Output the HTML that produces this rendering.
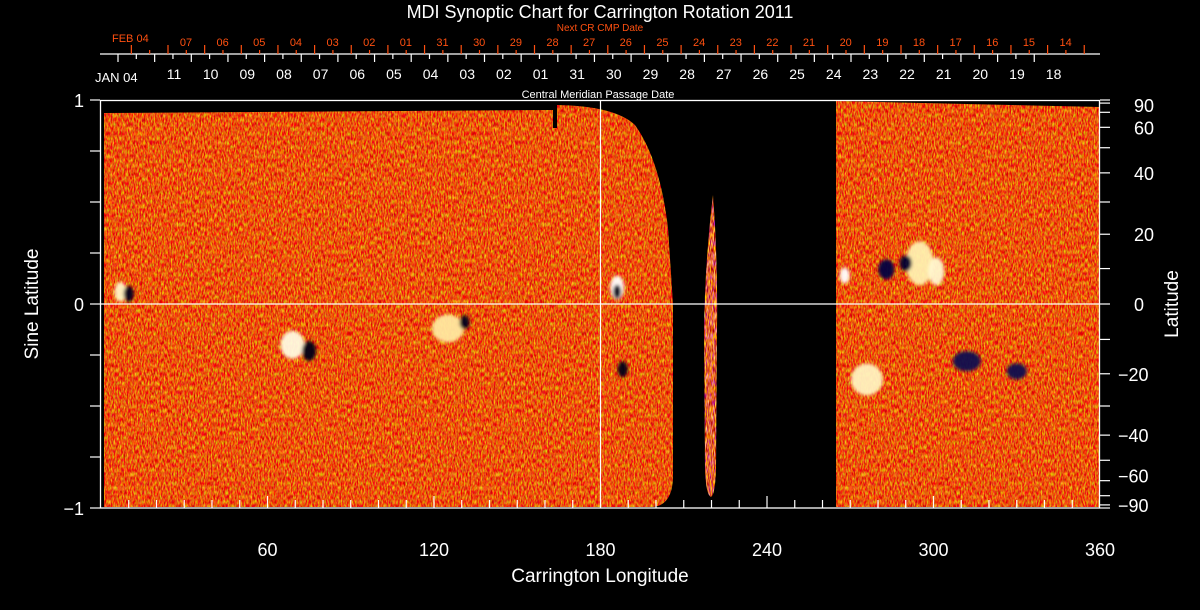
<!DOCTYPE html>
<html><head><meta charset="utf-8"><style>
html,body{margin:0;padding:0;background:#000;}
svg{display:block;}
text{font-family:"Liberation Sans","DejaVu Sans",sans-serif;}
</style></head>
<body>
<svg id="c" width="1200" height="610" viewBox="0 0 1200 610" xmlns="http://www.w3.org/2000/svg">
<defs>
<filter id="tex" x="0" y="0" width="100%" height="100%" color-interpolation-filters="sRGB">
<feTurbulence type="fractalNoise" baseFrequency="0.7 0.22" numOctaves="2" seed="4" result="n"/>
<feColorMatrix in="n" type="matrix" values="0.4 0 0 0 0.72  0 1.5 0 0 -0.42  0 0 0.3 0 -0.1  0 0 0 0 1"/>
</filter>
<filter id="tex2" x="0" y="0" width="100%" height="100%" color-interpolation-filters="sRGB">
<feTurbulence type="fractalNoise" baseFrequency="0.9 0.15" numOctaves="2" seed="9" result="n"/>
<feColorMatrix in="n" type="matrix" values="0.9 0 0 0 0.45  1.8 0 0 0 -0.5  0 0 1.8 0 -0.7  0 0 0 0 1"/>
</filter>
<filter id="blur"><feGaussianBlur stdDeviation="1.5"/></filter>
<clipPath id="clipL"><path d="M104,113 L553,110 L553,128 L557,128 L557,105 Q615,106 635,125 Q660,160 668,228 L673,304 L673,478 Q672,505 653,507 L104,507 Z"/></clipPath>
<clipPath id="clipS"><path d="M713,195 Q718,260 717,330 L716,470 Q715,495 711,497 Q706,495 705,470 L704,330 Q705,260 713,195 Z"/></clipPath>
<clipPath id="clipR"><path d="M836,101 L1100,107 L1100,507 L836,507 Z"/></clipPath>
</defs>
<g id="data">
<rect x="100" y="100" width="1000" height="408" fill="#e8561a" filter="url(#tex)" clip-path="url(#clipL)"/>
<rect x="100" y="100" width="1000" height="408" fill="#e8561a" filter="url(#tex)" clip-path="url(#clipR)"/>
<rect x="690" y="190" width="40" height="320" filter="url(#tex2)" clip-path="url(#clipS)"/>
<g id="spots" filter="url(#blur)"></g>
</g>
<g id="axes"></g>
</svg>
<script>
const NS='http://www.w3.org/2000/svg';
const axes=document.getElementById('axes');
const spotsG=document.getElementById('spots');
const lonTicks=[60,120,180,240,300,360];
const sineTicks=[1,0,-1];
const sineLabels=['1','0','\u22121'];
const latTicks=[90,60,40,20,0,-20,-40,-60,-90];
const latLabels=['90','60','40','20','0','\u221220','\u221240','\u221260','\u221290'];
const cmpDays=['11','10','09','08','07','06','05','04','03','02','01','31','30','29','28','27','26','25','24','23','22','21','20','19','18'];
const nextDays=['07','06','05','04','03','02','01','31','30','29','28','27','26','25','24','23','22','21','20','19','18','17','16','15','14'];
// spots: lon, sine latitude, rx, ry, colour
const spotLon=[7,10,69,75,125,131,186,186,188,295,301,276,283,290,268,312,330];
const spotLat=[0.06,0.05,-0.2,-0.23,-0.12,-0.09,0.08,0.06,-0.32,0.2,0.16,-0.37,0.17,0.2,0.14,-0.28,-0.33];
const spotRx=[6,5,12,7,16,5,7,4,5,14,8,16,8,6,5,14,10];
const spotRy=[10,8,14,10,14,7,12,7,8,22,14,16,10,8,8,10,8];
const spotCol=['#fff5c8','#000020','#fffae0','#000018','#ffe8a0','#00001c','#ffffff','#000018','#000018','#fff0b0','#fff8d0','#fff2c0','#000040','#000030','#ffffff','#101050','#101050'];
const X=l=>101+l*2.775, Y=s=>304-s*204;
function el(t,a,p){const e=document.createElementNS(NS,t);for(const k in a)e.setAttribute(k,a[k]);(p||axes).appendChild(e);return e;}
function txt(s,x,y,size,fill,anchor,name,rot){const e=el('text',{x:x,y:y,'font-size':size,fill:fill,'text-anchor':anchor||'middle'});if(rot)e.setAttribute('transform',rot);e.textContent=s;


return e;}
spotLon.forEach((l,i)=>{const e=el('ellipse',{cx:X(l),cy:Y(spotLat[i]),rx:spotRx[i],ry:spotRy[i],fill:spotCol[i],opacity:0.95},spotsG);

});
const f=el('rect',{x:100.5,y:100.5,width:999,height:407.5,fill:'none',stroke:'#fff','stroke-width':1.3});


const h=el('line',{x1:100,x2:1100,y1:Y(0),y2:Y(0),stroke:'#fff','stroke-width':1.2});


const v=el('line',{x1:X(180),x2:X(180),y1:100,y2:508,stroke:'#fff','stroke-width':1.2});


for(let l=10;l<360;l+=10){el('line',{x1:X(l),x2:X(l),y1:508,y2:l%60?500:496,stroke:'#fff','stroke-width':1.2});}
lonTicks.forEach(l=>txt(String(l),X(l),556,18,'#fff','middle','x-tick-label'));
for(let s=-1;s<=1.001;s+=0.25){el('line',{x1:90,x2:100,y1:Y(s),y2:Y(s),stroke:'#fff','stroke-width':1.2});}
sineTicks.forEach((s,i)=>txt(sineLabels[i],84,Y(s)+7,18,'#fff','end','y-tick-label'));
for(let a=-90;a<=90;a+=10){el('line',{x1:1100,x2:1110,y1:Y(Math.sin(a*Math.PI/180)),y2:Y(Math.sin(a*Math.PI/180)),stroke:'#fff','stroke-width':1.2});}
latTicks.forEach((a,i)=>{let yy=Y(Math.sin(a*Math.PI/180))+7;if(a===90)yy+=5;if(a===-90)yy-=3;if(a===-60)yy-=5;
txt(latLabels[i],a<0?1118:1134,yy,18,'#fff','start','right-tick-label');});
txt('MDI Synoptic Chart for Carrington Rotation 2011',600,18,18,'#fff','middle','chart-title');
txt('Carrington Longitude',600,582,19,'#fff','middle','x-axis-title');
txt('Sine Latitude',38,304,19,'#fff','middle','y-axis-title','rotate(-90 38 304)');
txt('Latitude',1178,304,19,'#fff','middle','right-axis-title','rotate(-90 1178 304)');
txt('Central Meridian Passage Date',598,98,11,'#fff','middle','cmp-axis-title');
txt('Next CR CMP Date',600,31,10,'#ff5010','middle','next-cr-axis-title');
el('line',{x1:100,x2:1100,y1:54,y2:54,stroke:'#fff','stroke-width':1.2});
for(let k=0;k<26;k++){const x=118+k*36.65;el('line',{x1:x,x2:x,y1:54,y2:62,stroke:'#fff','stroke-width':1.2});
if(k<25)el('line',{x1:x+18.3,x2:x+18.3,y1:54,y2:59,stroke:'#fff','stroke-width':1.2});}
cmpDays.forEach((d,i)=>txt(d,174+i*36.65,79,14,'#fff','middle','cmp-date-label'));
txt('JAN 04',95,82,13,'#fff','start','cmp-month-label');
for(let k=-1;k<26;k++){const x=168+k*36.65;if(x<1090)el('line',{x1:x,x2:x,y1:54,y2:45,stroke:'#ff5010','stroke-width':1.2});
if(x+18.3<1090)el('line',{x1:x+18.3,x2:x+18.3,y1:54,y2:50,stroke:'#ff5010','stroke-width':1.2});}
nextDays.forEach((d,i)=>txt(d,186+i*36.65,46,11,'#ff5010','middle','next-cr-date-label'));
txt('FEB 04',112,42,11,'#ff5010','start','next-cr-month-label');
</script>
</body></html>
